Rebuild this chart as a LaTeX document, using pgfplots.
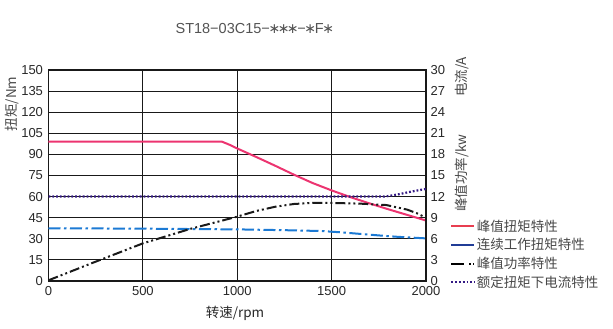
\documentclass[border=0pt]{standalone}
\usepackage{pgfplots}
\pgfplotsset{compat=1.18}
\usepackage{fontspec}
\setmainfont{Liberation Sans}
\newfontfamily\cjk{Noto Sans CJK SC}
\newfontfamily\djv{DejaVu Sans}
\newcommand{\st}{{\djv\fontsize{14}{16}\selectfont\kern-1.3pt∗\kern-1.3pt}}
\definecolor{pk}{RGB}{236,52,112}
\definecolor{pkleg}{RGB}{232,62,80}
\definecolor{bl}{RGB}{28,122,212}
\definecolor{blleg}{RGB}{32,60,150}
\definecolor{pu}{RGB}{52,26,132}
\definecolor{tx}{RGB}{40,40,40}
\begin{document}
\begin{tikzpicture}
\path[use as bounding box] (-48.5pt,-48pt) rectangle (564.5pt,281pt);
\begin{axis}[at={(0pt,0pt)}, anchor=south west, scale only axis,
  width=377.5pt, height=211pt,
  xmin=0, xmax=2000, ymin=0, ymax=150,
  xtick={0,500,...,2000}, ytick={0,15,...,150},
  grid=major, major grid style={black!90, line width=0.9pt},
  axis line style={line width=1.1pt, black!90},
  tick style={draw=none},
  /pgf/number format/assume math mode=true,
  /pgf/number format/1000 sep={},
  ticklabel style={font=\fontsize{13}{15}\selectfont, text=tx},
  xticklabel style={yshift=-2pt},
  yticklabel style={xshift=-2pt},
  title={ST18−03C15−\st\st\st−\st F\st},
  title style={at={(rel axis cs:0.545,1.17)}, anchor=center, font=\fontsize{14.5}{17}\selectfont, text=tx!80},
  xlabel={\cjk 转速/rpm},
  xlabel style={at={(rel axis cs:0.494,-0.152)}, anchor=center, font=\fontsize{13.5}{15}\selectfont, text=tx},
  ylabel={\cjk 扭矩/Nm},
  ylabel style={at={(rel axis cs:-0.0967,0.839)}, anchor=center, font=\fontsize{13.5}{15}\selectfont, text=tx!85},
]
\addplot[pk, line width=2pt] coordinates {
(0,99) (920,99) (960,96.8) (1000,94.2) (1100,88.2) (1200,82) (1300,75.6) (1400,69.6) (1500,64.4) (1600,59.6) (1700,55.2) (1800,51) (1900,47) (2000,43)};
\addplot[bl, line width=2pt, dash pattern=on 12pt off 3.5pt on 2.5pt off 3.5pt] coordinates {
(0,37.5) (500,37.2) (1000,36.7) (1300,36) (1450,35.5) (1550,34.6) (1650,33.5) (1750,32.4) (1850,31.4) (2000,30.3)};
\end{axis}
\begin{axis}[at={(0pt,0pt)}, anchor=south west, scale only axis,
  width=377.5pt, height=211pt, clip=false,
  xmin=0, xmax=2000, ymin=0, ymax=30,
  ytick={0,3,...,30},
  axis y line*=right, axis x line=none,
  axis line style={line width=1.1pt, black!90},
  tick style={draw=none},
  /pgf/number format/assume math mode=true,
  ticklabel style={font=\fontsize{13}{15}\selectfont, text=tx},
  yticklabel style={xshift=1pt},
  legend style={at={(rel axis cs:1.0636,0.298)}, anchor=north west, draw=none, fill=none,
    inner sep=0pt, row sep=2.8pt, font=\cjk\fontsize{13.5}{14}\selectfont, text=tx!85,
    nodes={inner sep=1.5pt}},
  legend cell align=left,
  legend image code/.code={\draw[#1] (0pt,0pt) -- (23pt,0pt);},
]
\addplot[pu, line width=2.2pt, dash pattern=on 1.8pt off 2pt, forget plot] coordinates {
(0,12) (1780,12) (1850,12.3) (1920,12.7) (2000,13.1)};
\addplot[black!90, line width=2pt, dash pattern=on 10pt off 3pt on 2pt off 3pt on 2pt off 3pt, forget plot] coordinates {
(0,0.1) (250,2.75) (500,5.35) (750,7.4) (1000,9.15) (1100,9.95) (1200,10.55) (1300,10.95) (1400,11.1) (1500,11.1) (1650,11.0) (1790,10.8) (1900,10.15) (1950,9.65) (2000,9.0)};
\addlegendimage{pkleg, line width=2pt}
\addlegendentry{峰值扭矩特性}
\addlegendimage{blleg, line width=2pt}
\addlegendentry{连续工作扭矩特性}
\addlegendimage{black, line width=2pt, dash pattern=on 13pt off 5pt on 2pt off 2pt}
\addlegendentry{峰值功率特性}
\addlegendimage{pu, line width=2.2pt, dash pattern=on 1.8pt off 2pt}
\addlegendentry{额定扭矩下电流特性}
\node[rotate=90, anchor=center, font=\cjk\fontsize{13.5}{15}\selectfont, text=tx!85] at (rel axis cs:1.0954,0.967) {电流/A};
\node[rotate=90, anchor=center, font=\cjk\fontsize{13.5}{15}\selectfont, text=tx!85] at (rel axis cs:1.0954,0.512) {峰值功率/kw};
\end{axis}
\end{tikzpicture}
\end{document}
